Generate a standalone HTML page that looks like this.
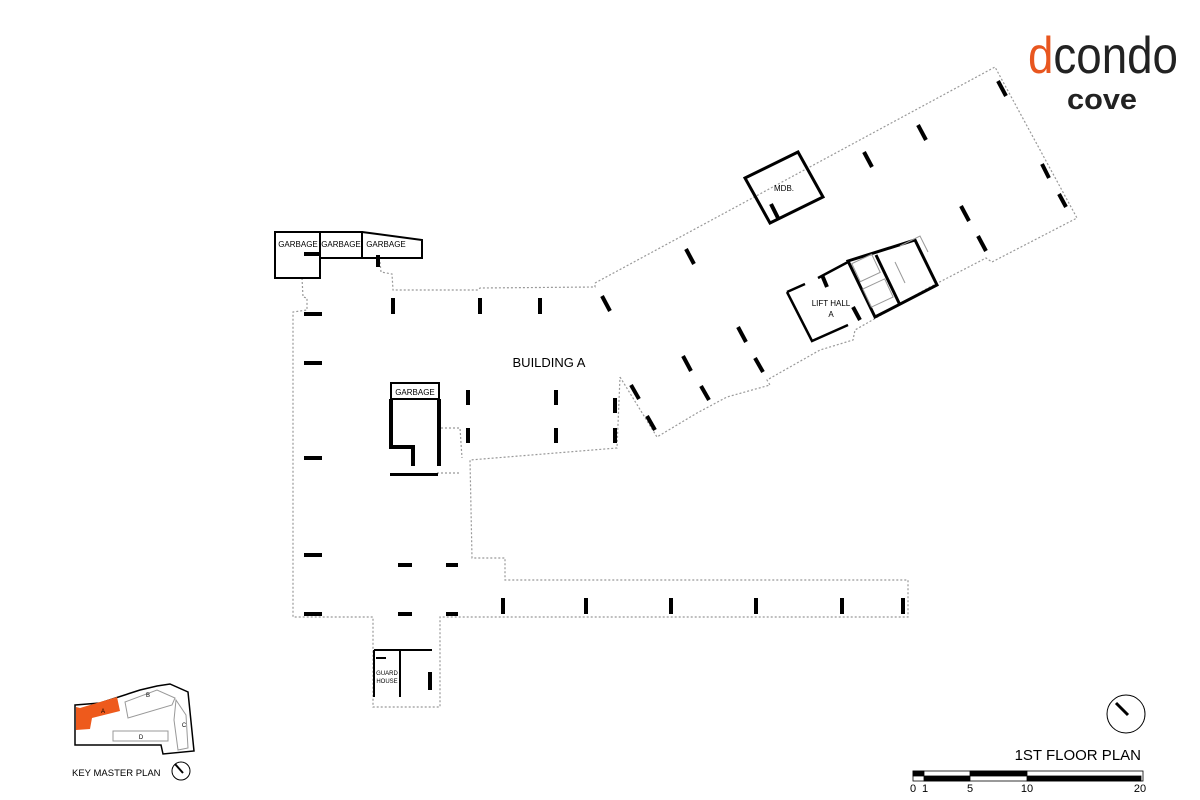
<!DOCTYPE html>
<html><head><meta charset="utf-8"><style>
html,body{margin:0;padding:0;background:#fff;}
svg{display:block}
text{font-family:"Liberation Sans",Arial,sans-serif;}
</style></head><body>
<svg width="1200" height="800" viewBox="0 0 1200 800" xmlns="http://www.w3.org/2000/svg">
<rect width="1200" height="800" fill="#fff"/>
<!-- logo -->
<text x="1028" y="73" font-size="52" textLength="150" lengthAdjust="spacingAndGlyphs" fill="#222"><tspan fill="#e8561f">d</tspan>condo</text>
<text x="1067" y="109" font-size="29" font-weight="bold" fill="#222" textLength="70" lengthAdjust="spacingAndGlyphs">cove</text>

<g fill="none" stroke="#999" stroke-width="1.2" stroke-dasharray="2,2">
<path d="M302,278 L303,297 L307,298 L307,310 L293,312 L293,617 L373,617 L373,707 L440,707 L440,617 L908,617 L908,580 L505,580 L505,558 L472,558 L470,460 L617,448 L620,377"/>
<path d="M380,262 L381,272 L392,274 L393,290 L478,290 L480,288 L595,287 L595,283"/>
<path d="M595,283 L995,67 L1077,218 L992,262 L986,258 L928,288 L855,330 L853,340 L820,350 L767,380 L770,385 L727,397 L697,413 L657,437 L620,377"/>
<path d="M437,428 L460,428 L462,458 M437,473 L460,473"/>
</g>

<g fill="none" stroke="#000" stroke-width="2">
<path d="M275,232 L320,232 L320,278 L275,278 Z"/>
<path d="M320,232 L362,232 L362,258 L320,258"/>
<path d="M362,232 L422,240 L422,258 L362,258"/>
<rect x="391" y="383" width="48" height="16"/>
<path d="M391,399 L391,447 L413,447 L413,466 M439,399 L439,466" stroke-width="4"/>
<path d="M374,650 L432,650 M374,650 L374,697 M400,650 L400,697 M376,658 L386,658"/>
<path d="M745,178 L798,152 L823,197 L770,223 Z" stroke-width="3"/>
<path d="M787,292 L812,341 L848,325" stroke-width="2.5"/>
<path d="M787,292 L805,284 M818,278 L848,262" stroke-width="2.5"/>
<path d="M848,261 L915,240 L937,285 L875,317 Z" stroke-width="3"/>
<path d="M876,255 L900,305" stroke-width="3"/>
</g>
<g fill="none" stroke="#999" stroke-width="1">
<rect x="855" y="258" width="22" height="20" transform="rotate(-25 866 268)"/>
<rect x="866" y="283" width="24" height="20" transform="rotate(-25 878 293)"/>
<path d="M900,246 L920,236 L928,252 M895,262 L905,283"/>
</g>

<g font-size="8" fill="#000" text-anchor="middle">
<text x="298" y="247">GARBAGE</text>
<text x="341" y="247">GARBAGE</text>
<text x="386" y="247">GARBAGE</text>
<text x="415" y="395">GARBAGE</text>
<text x="784" y="191">MDB.</text>
<text x="831" y="306">LIFT HALL</text>
<text x="831" y="317">A</text>
<text x="387" y="675" font-size="6">GUARD</text>
<text x="387" y="683" font-size="6">HOUSE</text>
</g>
<text x="549" y="367" font-size="13" text-anchor="middle">BUILDING A</text>

<g fill="#000">
<rect x="304" y="312" width="18" height="4"/>
<rect x="304" y="361" width="18" height="4"/>
<rect x="304" y="456" width="18" height="4"/>
<rect x="304" y="553" width="18" height="4"/>
<rect x="304" y="612" width="18" height="4"/>
<rect x="398" y="563" width="14" height="4"/>
<rect x="446" y="563" width="12" height="4"/>
<rect x="398" y="612" width="14" height="4"/>
<rect x="446" y="612" width="12" height="4"/>
<rect x="304" y="252" width="16" height="4"/>
<rect x="390" y="473" width="48" height="3"/>
<rect x="391" y="298" width="4" height="16"/>
<rect x="478" y="298" width="4" height="16"/>
<rect x="538" y="298" width="4" height="16"/>
<rect x="466" y="390" width="4" height="15"/>
<rect x="466" y="428" width="4" height="15"/>
<rect x="554" y="390" width="4" height="15"/>
<rect x="554" y="428" width="4" height="15"/>
<rect x="613" y="398" width="4" height="15"/>
<rect x="613" y="428" width="4" height="15"/>
<rect x="501" y="598" width="4" height="16"/>
<rect x="584" y="598" width="4" height="16"/>
<rect x="669" y="598" width="4" height="16"/>
<rect x="754" y="598" width="4" height="16"/>
<rect x="840" y="598" width="4" height="16"/>
<rect x="901" y="598" width="4" height="16"/>
<rect x="428" y="672" width="4" height="18"/>
<rect x="376" y="255" width="4" height="12"/>
</g>
<g stroke="#000" stroke-width="4">
<line x1="602" y1="296" x2="610" y2="311"/>
<line x1="686" y1="249" x2="694" y2="264"/>
<line x1="864" y1="152" x2="872" y2="167"/>
<line x1="918" y1="125" x2="926" y2="140"/>
<line x1="998" y1="81" x2="1006" y2="96"/>
<line x1="961" y1="206" x2="969" y2="221"/>
<line x1="978" y1="236" x2="986" y2="251"/>
<line x1="1042" y1="164" x2="1049" y2="178"/>
<line x1="1059" y1="194" x2="1066" y2="207"/>
<line x1="738" y1="327" x2="746" y2="342"/>
<line x1="683" y1="356" x2="691" y2="371"/>
<line x1="755" y1="358" x2="763" y2="372"/>
<line x1="701" y1="386" x2="709" y2="400"/>
<line x1="631" y1="385" x2="639" y2="399"/>
<line x1="647" y1="416" x2="655" y2="430"/>
<line x1="771" y1="204" x2="778" y2="218"/>
<line x1="853" y1="307" x2="860" y2="320"/>
<line x1="822" y1="275" x2="827" y2="287"/>
</g>

<path d="M75,705 L100,703 L140,690 L157,686 L170,684 L188,692 L194,751 L163,754 L161,745 L75,745 Z" fill="none" stroke="#000" stroke-width="1.5"/>
<path d="M76,707 L80,708 L117,697 L120,711 L92,718 L90,729 L76,730 Z" fill="#ee5a1c"/>
<g fill="none" stroke="#999" stroke-width="1">
<path d="M125,702 L157,690 L175,698 L172,705 L128,718 Z"/>
<path d="M176,700 L186,715 L188,748 L178,750 L174,720 Z"/>
<rect x="113" y="731" width="55" height="10"/>
</g>
<g font-size="6" text-anchor="middle" fill="#000"><text x="103" y="713">A</text><text x="148" y="697">B</text><text x="184" y="727">C</text><text x="141" y="739">D</text></g>
<text x="72" y="776" font-size="9.5">KEY MASTER PLAN</text>
<circle cx="181" cy="771" r="9" fill="none" stroke="#000" stroke-width="1"/>
<line x1="175" y1="764" x2="183" y2="773" stroke="#000" stroke-width="2"/>

<circle cx="1126" cy="714" r="19" fill="none" stroke="#000" stroke-width="1"/>
<line x1="1116" y1="703" x2="1128" y2="715" stroke="#000" stroke-width="3"/>
<text x="1141" y="760" font-size="15" text-anchor="end">1ST FLOOR PLAN</text>
<g stroke="#000" stroke-width="0.8">
<rect x="913" y="771" width="230" height="10" fill="#fff"/>
<rect x="913" y="771" width="11" height="5" fill="#000"/>
<rect x="924" y="776" width="46" height="5" fill="#000"/>
<rect x="970" y="771" width="57" height="5" fill="#000"/>
<rect x="1027" y="776" width="114" height="5" fill="#000"/>
</g>
<g font-size="11" text-anchor="middle" fill="#000"><text x="913" y="792">0</text><text x="925" y="792">1</text><text x="970" y="792">5</text><text x="1027" y="792">10</text><text x="1140" y="792">20</text></g>
</svg>
</body></html>
